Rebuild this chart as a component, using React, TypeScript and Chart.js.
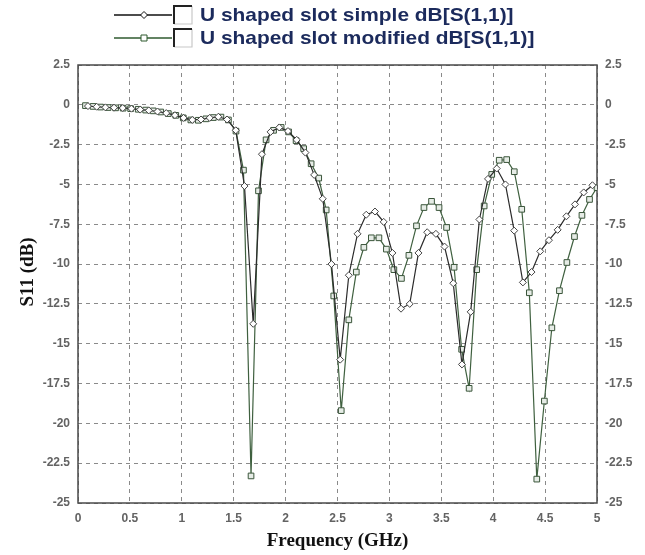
import React, { useEffect, useRef } from 'react';
import { Chart, registerables } from 'chart.js';

Chart.register(...registerables);

// Frequencies (GHz) of the "simple" slot sweep
const freqSimple = [
  0.096, 0.180, 0.264, 0.347, 0.431, 0.515, 0.599, 0.682, 0.766, 0.850,
  0.934, 1.017, 1.101, 1.185, 1.269, 1.352, 1.436, 1.520, 1.604, 1.688,
  1.772, 1.855, 1.939, 2.023, 2.107, 2.191, 2.275, 2.358, 2.442, 2.526,
  2.609, 2.693, 2.777, 2.861, 2.945, 3.029, 3.112, 3.196, 3.280, 3.364,
  3.448, 3.531, 3.615, 3.699, 3.783, 3.867, 3.950, 4.034, 4.118, 4.202,
  4.286, 4.369, 4.453, 4.537, 4.621, 4.705, 4.788, 4.872, 4.956,
];
// S11 (dB) of the "simple" slot
const s11Simple = [
  -0.08, -0.12, -0.16, -0.18, -0.2, -0.24, -0.3, -0.35, -0.42, -0.52,
  -0.65, -0.82, -0.95, -0.92, -0.82, -0.75, -0.92, -1.6, -5.1, -13.75,
  -3.1, -1.7, -1.42, -1.65, -2.2, -3.0, -4.4, -5.9, -10.0, -16.0,
  -10.7, -8.1, -6.9, -6.7, -7.35, -9.3, -12.8, -12.5, -9.3, -8.0,
  -8.1, -8.9, -11.2, -16.3, -13.0, -7.2, -4.65, -4.0, -5.0, -7.9,
  -11.15, -10.5, -9.2, -8.5, -7.85, -7.0, -6.25, -5.5, -5.05,
];

// Frequencies (GHz) of the "modified" slot sweep
const freqModified = [
  0.072, 0.145, 0.217, 0.290, 0.362, 0.435, 0.507, 0.580, 0.652, 0.725,
  0.797, 0.870, 0.942, 1.014, 1.087, 1.159, 1.232, 1.304, 1.377, 1.449,
  1.522, 1.594, 1.667, 1.739, 1.812, 1.884, 1.957, 2.029, 2.101, 2.174,
  2.246, 2.319, 2.391, 2.464, 2.536, 2.609, 2.681, 2.754, 2.826, 2.899,
  2.971, 3.043, 3.116, 3.188, 3.261, 3.333, 3.406, 3.478, 3.551, 3.623,
  3.696, 3.768, 3.841, 3.913, 3.986, 4.058, 4.130, 4.203, 4.275, 4.348,
  4.420, 4.493, 4.565, 4.638, 4.710, 4.783, 4.855, 4.928, 5.000,
];
// S11 (dB) of the "modified" slot
const s11Modified = [
  -0.05, -0.1, -0.14, -0.17, -0.19, -0.21, -0.24, -0.28, -0.33, -0.38,
  -0.45, -0.55, -0.66, -0.82, -0.95, -0.97, -0.88, -0.8, -0.77, -0.95,
  -1.65, -4.1, -23.3, -5.4, -2.2, -1.6, -1.42, -1.7, -2.25, -2.75,
  -3.7, -4.6, -6.6, -12.0, -19.2, -13.5, -10.5, -8.95, -8.35, -8.35,
  -9.06, -10.35, -10.9, -9.45, -7.6, -6.45, -6.06, -6.45, -7.7, -10.2,
  -15.35, -17.8, -10.35, -6.35, -4.37, -3.48, -3.44, -4.2, -6.56, -11.8,
  -23.5, -18.6, -14.0, -11.67, -9.9, -8.27, -6.94, -5.94, -5.2,
];

const xTicks = [0, 0.5, 1, 1.5, 2, 2.5, 3, 3.5, 4, 4.5, 5];
const yTicks = [2.5, 0, -2.5, -5, -7.5, -10, -12.5, -15, -17.5, -20, -22.5, -25];

const seriesNames = ['U shaped slot simple dB[S(1,1)]', 'U shaped slot modified dB[S(1,1)]'];
const xTitle = 'Frequency (GHz)';
const yTitle = 'S11 (dB)';

const SIMPLE_COLOR = '#2b2b2b';
const MOD_COLOR = '#3f603f';
const TICK_FONT = { family: '"Liberation Sans", Arial, sans-serif', size: 12, weight: 'bold' as const };
const TICK_COLOR = '#636363';

const decorPlugin = {
  id: 'decor',
  beforeDatasetsDraw(chart: any) {
    const { ctx, chartArea } = chart;
    ctx.save();
    ctx.strokeStyle = '#4a4a4a';
    ctx.lineWidth = 1.5;
    ctx.strokeRect(chartArea.left, chartArea.top, chartArea.right - chartArea.left, chartArea.bottom - chartArea.top);
    ctx.restore();
  },
  afterDraw(chart: any) {
    const { ctx } = chart;
    ctx.save();
    // Y axis title
    ctx.translate(28, 272);
    ctx.rotate(-Math.PI / 2);
    ctx.font = 'bold 19px "Liberation Serif", "Times New Roman", serif';
    ctx.fillStyle = '#111111';
    ctx.textAlign = 'center';
    ctx.textBaseline = 'middle';
    ctx.fillText(yTitle, 0, 0);
    ctx.restore();

    // Legend
    const rows = [
      { y: 15, color: '#111111', style: 'diamond', text: seriesNames[0] },
      { y: 38, color: '#2f5a2f', style: 'square', text: seriesNames[1] },
    ];
    rows.forEach((r) => {
      ctx.save();
      ctx.strokeStyle = r.color;
      ctx.lineWidth = 1.3;
      ctx.beginPath();
      ctx.moveTo(114, r.y);
      ctx.lineTo(172, r.y);
      ctx.stroke();
      const mx = 144;
      ctx.fillStyle = '#ffffff';
      ctx.lineWidth = 1;
      ctx.beginPath();
      if (r.style === 'diamond') {
        ctx.moveTo(mx, r.y - 3.5);
        ctx.lineTo(mx + 3.5, r.y);
        ctx.lineTo(mx, r.y + 3.5);
        ctx.lineTo(mx - 3.5, r.y);
        ctx.closePath();
      } else {
        ctx.rect(mx - 3, r.y - 3, 6, 6);
      }
      ctx.fill();
      ctx.stroke();
      // checkbox
      const bx = 174, by = r.y - 9, bs = 18;
      ctx.fillStyle = '#ffffff';
      ctx.fillRect(bx, by, bs, bs);
      ctx.strokeStyle = '#c8c8c8';
      ctx.lineWidth = 1.2;
      ctx.beginPath();
      ctx.moveTo(bx + bs, by);
      ctx.lineTo(bx + bs, by + bs);
      ctx.lineTo(bx, by + bs);
      ctx.stroke();
      ctx.strokeStyle = '#222222';
      ctx.lineWidth = 2;
      ctx.beginPath();
      ctx.moveTo(bx, by + bs);
      ctx.lineTo(bx, by);
      ctx.lineTo(bx + bs, by);
      ctx.stroke();
      // text (slightly widened like the source rendering)
      ctx.translate(200, r.y + 1);
      ctx.scale(1.1, 1);
      ctx.font = 'bold 19px "Liberation Sans", Arial, sans-serif';
      ctx.fillStyle = '#1b2a5c';
      ctx.textAlign = 'left';
      ctx.textBaseline = 'middle';
      ctx.fillText(r.text, 0, 0);
      ctx.restore();
    });
  },
};

export default function App() {
  const canvasRef = useRef<HTMLCanvasElement | null>(null);

  useEffect(() => {
    if (!canvasRef.current) return;
    const yAxisBase = (position: 'left' | 'right', width: number) => ({
      type: 'linear' as const,
      position,
      display: true,
      min: -25,
      max: 2.5,
      afterBuildTicks: (scale: any) => {
        scale.ticks = yTicks.map((v) => ({ value: v }));
      },
      afterFit: (scale: any) => {
        scale.width = width;
      },
      ticks: {
        font: TICK_FONT,
        color: TICK_COLOR,
        padding: 8,
        callback: (v: any) => String(v),
      },
      grid: {
        display: position === 'left',
        drawTicks: false,
        color: '#8a8a8a',
        lineWidth: 1,
      },
      border: { display: false, dash: [4, 4] },
    });

    const chart = new Chart(canvasRef.current, {
      type: 'line',
      data: {
        datasets: [
          {
            label: seriesNames[0],
            data: freqSimple.map((f, i) => ({ x: f, y: s11Simple[i] })),
            borderColor: SIMPLE_COLOR,
            backgroundColor: '#ffffff',
            borderWidth: 1.2,
            pointStyle: 'rectRot',
            pointRadius: 3.5,
            pointBorderWidth: 1,
            pointBorderColor: '#444444',
            pointBackgroundColor: '#ffffff',
            tension: 0,
            yAxisID: 'y',
          },
          {
            label: seriesNames[1],
            data: freqModified.map((f, i) => ({ x: f, y: s11Modified[i] })),
            borderColor: MOD_COLOR,
            backgroundColor: '#ffffff',
            borderWidth: 1.2,
            pointStyle: 'rect',
            pointRadius: 4,
            pointBorderWidth: 1,
            pointBorderColor: '#3a553a',
            pointBackgroundColor: '#e6ece6',
            tension: 0,
            yAxisID: 'y',
          },
        ],
      },
      options: {
        animation: false,
        responsive: true,
        maintainAspectRatio: false,
        layout: { padding: { top: 65, left: 0, right: 0, bottom: 0 } },
        plugins: {
          legend: { display: false },
          tooltip: { enabled: false },
        },
        scales: {
          x: {
            type: 'linear',
            min: 0,
            max: 5,
            afterBuildTicks: (scale: any) => {
              scale.ticks = xTicks.map((v) => ({ value: v }));
            },
            afterFit: (scale: any) => {
              scale.height = 52;
            },
            ticks: {
              font: TICK_FONT,
              color: TICK_COLOR,
              padding: 8,
              maxRotation: 0,
              callback: (v: any) => String(v),
            },
            grid: { drawTicks: false, color: '#8a8a8a', lineWidth: 1 },
            border: { display: false, dash: [4, 4] },
            title: {
              display: true,
              text: xTitle,
              font: { family: '"Liberation Serif", "Times New Roman", serif', size: 19, weight: 'bold' },
              color: '#111111',
              padding: { top: 0, bottom: 3 },
            },
          },
          y: yAxisBase('left', 78),
          y2: yAxisBase('right', 48),
        },
      },
      plugins: [decorPlugin],
    });
    return () => chart.destroy();
  }, []);

  return (
    <div style={{ position: 'absolute', left: 0, top: 0, width: 645, height: 555, background: '#ffffff' }}>
      <canvas ref={canvasRef} />
    </div>
  );
}
